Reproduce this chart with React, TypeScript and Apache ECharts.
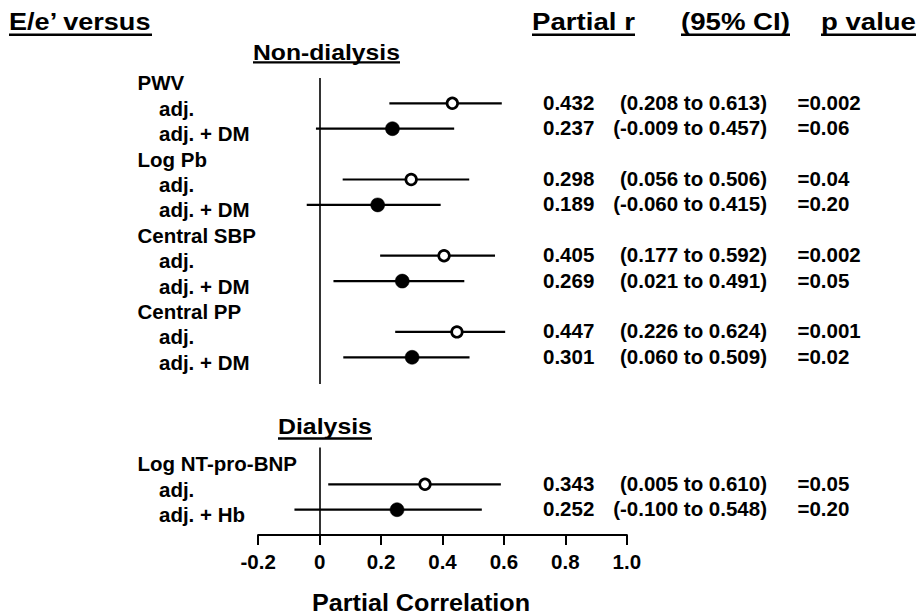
import React, { useEffect, useRef } from "react";
import * as echarts from "echarts";

// ---------- data ----------
// y-axis row index (0 = top) for each label line
const rowLabels = [
  "PWV", "adj.", "adj. + DM",
  "Log Pb", "adj.", "adj. + DM",
  "Central SBP", "adj.", "adj. + DM",
  "Central PP", "adj.", "adj. + DM",
  "", "", "",
  "Log NT-pro-BNP", "adj.", "adj. + Hb",
];
// rows that carry an estimate
const estRows = [1, 2, 4, 5, 7, 8, 10, 11, 16, 17];
const partialR = [0.432, 0.237, 0.298, 0.189, 0.405, 0.269, 0.447, 0.301, 0.343, 0.252];
// whiskers as drawn in the picture
const barLow = [0.227, -0.012, 0.075, -0.042, 0.197, 0.045, 0.246, 0.077, 0.028, -0.082];
const barHigh = [0.593, 0.438, 0.487, 0.394, 0.571, 0.471, 0.604, 0.488, 0.59, 0.528];
const filledMarker = [0, 1, 0, 1, 0, 1, 0, 1, 0, 1];
const ciText = [
  "(0.208 to 0.613)", "(-0.009 to 0.457)",
  "(0.056 to 0.506)", "(-0.060 to 0.415)",
  "(0.177 to 0.592)", "(0.021 to 0.491)",
  "(0.226 to 0.624)", "(0.060 to 0.509)",
  "(0.005 to 0.610)", "(-0.100 to 0.548)",
];
const pText = ["=0.002", "=0.06", "=0.04", "=0.20", "=0.002", "=0.05", "=0.001", "=0.02", "=0.05", "=0.20"];
const xTicks = { min: -0.2, max: 1.0, interval: 0.2 };
const zeroSegments = [[0, 12.05], [14.55, 18]];
const rowRange = { min: 0, max: 18 };

const FONT = '"Liberation Sans", Arial, Helvetica, sans-serif';
const BODY = 20.5;

function measure(text: string, size: number) {
  const c = document.createElement("canvas").getContext("2d");
  if (!c) return text.length * size * 0.55;
  c.font = `bold ${size}px ${FONT}`;
  return c.measureText(text).width;
}

const headers = [
  { text: "E/e\u2019 versus", left: 9, cy: 22, width: 143, size: 24, ul: 34.7 },
  { text: "Non-dialysis", left: 253, cy: 52.2, width: 147, size: 23, ul: 62.4 },
  { text: "Partial r", left: 532, cy: 21.7, width: 103, size: 24, ul: 34.7 },
  { text: "(95% CI)", left: 681, cy: 21.7, width: 109, size: 24, ul: 34.7 },
  { text: "p value", left: 821, cy: 21.7, width: 95, size: 24, ul: 34.7 },
  { text: "Dialysis", left: 278, cy: 426, width: 94, size: 23, ul: 438.5 },
  { text: "Partial Correlation", left: 312, cy: 603, width: 218, size: 24, ul: 0 },
];

export default function App() {
  const ref = useRef<HTMLDivElement>(null);
  useEffect(() => {
    document.body.style.margin = "0";
    if (!ref.current) return;
    const chart = echarts.init(ref.current, null, { renderer: "svg" });

    const graphics: any[] = [];
    headers.forEach((h) => {
      const w = measure(h.text, h.size);
      const s = h.width / w;
      graphics.push({
        type: "text",
        x: h.left,
        y: h.cy,
        scaleX: s,
        style: {
          text: h.text,
          fontSize: h.size,
          fontWeight: "bold",
          fontFamily: FONT,
          fill: "#000",
          align: "left",
          verticalAlign: "middle",
        },
      });
      if (h.ul) {
        graphics.push({
          type: "line",
          shape: { x1: h.left, y1: h.ul, x2: h.left + h.width, y2: h.ul },
          style: { stroke: "#000", lineWidth: 2.4 },
        });
      }
    });

    const textStyle = (text: string, align: string) => ({
      text,
      fontSize: BODY,
      fontWeight: "bold",
      fontFamily: FONT,
      fill: "#000",
      align,
      verticalAlign: "middle",
    });

    const option: any = {
      animation: false,
      backgroundColor: "#fff",
      grid: { left: 258.2, top: 77.9, width: 368.6, height: 457.2 },
      xAxis: {
        type: "value",
        min: xTicks.min,
        max: xTicks.max,
        interval: xTicks.interval,
        splitLine: { show: false },
        axisLine: { show: true, onZero: false, lineStyle: { color: "#000", width: 2.2 } },
        axisTick: { show: true, length: 10, lineStyle: { color: "#000", width: 2 } },
        axisLabel: {
          margin: 16,
          fontSize: BODY,
          fontWeight: "bold",
          fontFamily: FONT,
          color: "#000",
          formatter: (v: number) => (Math.abs(v) < 1e-9 ? "0" : v.toFixed(1)),
        },
      },
      yAxis: {
        type: "value",
        inverse: true,
        min: rowRange.min,
        max: rowRange.max,
        show: false,
        splitLine: { show: false },
      },
      graphic: graphics,
      series: [
        {
          type: "line",
          data: [],
          silent: true,
          markLine: {
            silent: true,
            symbol: ["none", "none"],
            label: { show: false },
            lineStyle: { color: "#000", width: 1.6, type: "solid" },
            data: zeroSegments.map(([a, b]) => [{ coord: [0, a] }, { coord: [0, b] }]),
          },
        },
        {
          type: "custom",
          coordinateSystem: "cartesian2d",
          clip: false,
          silent: true,
          encode: { x: 1, y: 0 },
          data: rowLabels.map((t, r) => [r, 0]).filter(([r]) => rowLabels[r] !== ""),
          renderItem: (params: any, api: any) => {
            const r = api.value(0);
            const p = api.coord([0, r]);
            const t = rowLabels[r];
            const indent = t.startsWith("adj");
            return {
              type: "text",
              x: indent ? 159 : 137.5,
              y: p[1] + 5,
              style: textStyle(t, "left"),
            };
          },
        },
        {
          type: "custom",
          coordinateSystem: "cartesian2d",
          clip: false,
          silent: true,
          encode: { x: [1, 2, 3], y: 0 },
          data: estRows.map((r, i) => [r, barLow[i], barHigh[i], partialR[i], filledMarker[i]]),
          renderItem: (params: any, api: any) => {
            const i = params.dataIndex;
            const row = api.value(0);
            const lo = api.coord([api.value(1), row]);
            const hi = api.coord([api.value(2), row]);
            const pt = api.coord([api.value(3), row]);
            const filled = api.value(4) === 1;
            return {
              type: "group",
              children: [
                {
                  type: "line",
                  shape: { x1: lo[0], y1: lo[1], x2: hi[0], y2: hi[1] },
                  style: { stroke: "#000", lineWidth: 2.2 },
                },
                {
                  type: "circle",
                  shape: { cx: pt[0], cy: pt[1], r: filled ? 7 : 5.3 },
                  style: filled
                    ? { fill: "#000", stroke: "#000", lineWidth: 0.5 }
                    : { fill: "#fff", stroke: "#000", lineWidth: 2.7 },
                },
                { type: "text", x: 543, y: pt[1] - 1, style: textStyle(partialR[i].toFixed(3), "left") },
                { type: "text", x: 767, y: pt[1] - 1, style: textStyle(ciText[i], "right") },
                { type: "text", x: 797.5, y: pt[1] - 1, style: textStyle(pText[i], "left") },
              ],
            };
          },
        },
      ],
    };
    chart.setOption(option);
    return () => chart.dispose();
  }, []);
  return <div ref={ref} style={{ width: 917, height: 616 }} />;
}
